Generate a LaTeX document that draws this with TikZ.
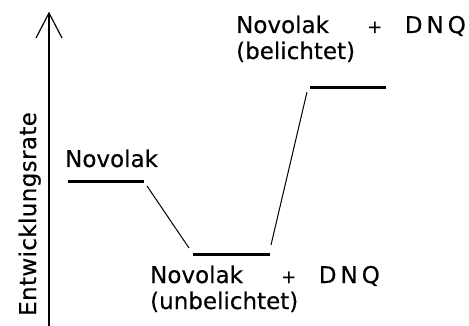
\documentclass[tikz,border=0pt]{standalone}
\usepackage{fontspec}
\setmainfont{DejaVu Sans}
\newfontfamily\lblfont[FakeBold=0.35]{DejaVu Sans}
\newcommand{\smallplus}{{\fontsize{18}{18}\selectfont +}}
\begin{document}
\begin{tikzpicture}[x=1pt,y=-1pt,
  lbl/.style={font=\lblfont\fontsize{23}{26}\selectfont, inner sep=0pt, anchor=base west, align=left},
  level/.style={line width=3pt},
  link/.style={line width=1pt},
  axisline/.style={line width=2pt},
  tipline/.style={line width=1.2pt, line join=miter}]
\useasboundingbox (0,0) rectangle (469,326);
% axis
\coordinate (ax0) at (49,326);
\coordinate (ax1) at (49,13);
\coordinate (hl) at (36,38);
\coordinate (hr) at (62,38);
\draw[axisline] (ax0) -- (ax1);
\draw[tipline] (hl) -- (ax1) -- (hr);
\node[lbl, rotate=90, anchor=base] (ylab) at (36,214) {\addfontfeatures{LetterSpace=1.6}Entwicklungsrate};
% levels
\coordinate (a1) at (68,182);
\coordinate (a2) at (144,182);
\coordinate (b1) at (193,254);
\coordinate (b2) at (270,254);
\coordinate (c1) at (310,88);
\coordinate (c2) at (386,88);
\draw[level] (a1) -- (a2);
\draw[level] (b1) -- (b2);
\draw[level] (c1) -- (c2);
% links
\coordinate (p1) at (147,186);
\coordinate (p2) at (189,248);
\coordinate (q1) at (271,245);
\coordinate (q2) at (307,92);
\draw[link] (p1) -- (p2);
\draw[link] (q1) -- (q2);
% labels
\node[lbl] (nov) at (65,167) {Novolak};
\node[lbl] (unb) at (150,309) {Novolak\hspace{38.3pt}\smallplus\hspace{22.5pt}D\kern4pt N\kern4pt Q\\(unbelichtet)};
\node[lbl] (bel) at (236,59) {Novolak\hspace{38.3pt}\smallplus\hspace{22.5pt}D\kern4pt N\kern4pt Q\\(belichtet)};
\end{tikzpicture}
\end{document}
